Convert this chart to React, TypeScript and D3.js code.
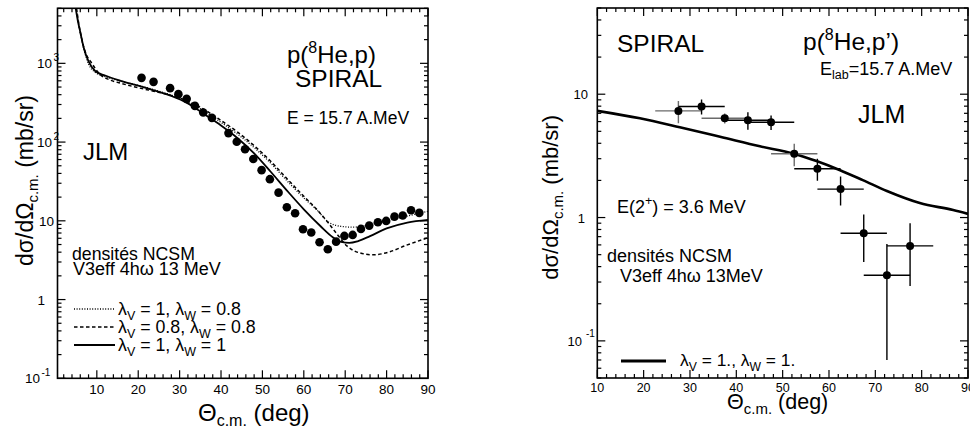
import React from "react";
import * as d3 from "d3";

// ---------- Left panel: elastic p(8He,p) ----------
const dataX1 = [20.8, 23.7, 27.7, 29.7, 31.7, 33.7, 35.7, 37.8, 41.8, 43.8, 45.8, 47.8, 49.8, 51.8, 53.9, 55.9, 57.9, 59.8, 61.8, 63.8, 65.8, 67.8, 69.8, 71.8, 73.8, 75.8, 77.9, 79.9, 81.9, 83.9, 85.9, 87.9];
const dataY1 = [654, 582, 484, 406, 354, 288, 237, 203, 130, 101, 81, 61, 44, 33.8, 22.8, 14.9, 12.5, 7.82, 7.12, 5.35, 4.36, 5.44, 6.43, 6.62, 7.89, 8.69, 9.6, 9.97, 11.3, 11.7, 13.6, 12.6];

const solidX1 = [4.9, 5.4, 6.0, 6.8, 8.0, 9.6, 12, 16, 20, 24, 28, 32, 36, 40, 44, 48, 52, 56, 60, 64, 67, 69, 71, 73, 76, 80, 85, 90];
const solidY1 = [5000, 3500, 2500, 1600, 1060, 800, 700, 595, 520, 450, 385, 310, 225, 162, 112, 72, 42, 24, 14, 8.6, 6.2, 5.4, 5.25, 5.5, 6.4, 8.0, 9.5, 10.3];

const dottedX1 = [5.0, 5.5, 6.1, 6.9, 8.0, 9.6, 12, 16, 20, 24, 28, 32, 36, 40, 44, 48, 52, 56, 60, 63, 66, 69, 72, 75, 80, 85, 90];
const dottedY1 = [5000, 3400, 2300, 1500, 980, 770, 680, 590, 525, 460, 395, 325, 245, 178, 126, 85, 54, 32, 19.5, 14, 9.6, 8.5, 8.3, 8.7, 10.0, 11.5, 13.2];

const dashedX1 = [5.1, 5.6, 6.3, 7.2, 8.8, 10.8, 13, 16, 20, 24, 28, 32, 36, 40, 44, 48, 52, 56, 60, 63, 66, 68, 70.4, 73.6, 76.8, 80.8, 84.8, 90];
const dashedY1 = [5000, 3300, 2100, 1400, 1000, 720, 620, 555, 490, 440, 390, 330, 258, 188, 134, 90, 57, 34, 20.5, 14.2, 9.3, 6.8, 4.8, 3.9, 3.7, 4.05, 4.9, 6.1];

const xTicks1 = [10, 20, 30, 40, 50, 60, 70, 80, 90];
const yTicks1 = [0.1, 1, 10, 100, 1000];
const yTickLabels1 = [["10", "-1"], ["1", ""], ["10", ""], ["10", "2"], ["10", "3"]];

// ---------- Right panel: inelastic p(8He,p') ----------
const dataX2 = [27.5, 32.5, 37.5, 42.5, 47.5, 52.5, 57.5, 62.5, 67.5, 72.5, 77.5];
const dataY2 = [7.32, 7.95, 6.38, 6.15, 5.93, 3.29, 2.49, 1.70, 0.746, 0.340, 0.589];
const errY2 = [1.5, 1.1, 0.6, 1.0, 0.8, 0.68, 0.5, 0.45, 0.31, 0.27, 0.31];
const errX2 = [5, 5, 5, 5, 5, 5, 5, 5, 5, 5, 5];

const curveX2 = [10, 19.2, 27.8, 36.5, 45.1, 52.4, 57.3, 62.4, 67.3, 72.5, 79.6, 86.8, 90];
const curveY2 = [7.33, 6.38, 5.4, 4.52, 3.78, 3.29, 2.87, 2.42, 2.01, 1.64, 1.31, 1.15, 1.07];

const xTicks2 = [10, 20, 30, 40, 50, 60, 70, 80, 90];
const yTicks2 = [0.1, 1, 10];
const yTickLabels2 = [["10", "-1"], ["1", ""], ["10", ""]];

const FONT = "'Liberation Sans', Arial, Helvetica, sans-serif";

function logMinor(lo: number, hi: number) {
  const out: { v: number; major: boolean }[] = [];
  for (let e = Math.floor(Math.log10(lo)); e <= Math.ceil(Math.log10(hi)); e++) {
    for (let m = 1; m <= 9; m++) {
      const v = m * Math.pow(10, e);
      if (v >= lo * 0.999 && v <= hi * 1.001) out.push({ v, major: m === 1 });
    }
  }
  return out;
}

function Frame({ x, y, majorLen, minorLen }: any) {
  const [x0, x1] = x.range();
  const [y0, y1] = y.range();
  const [dx0, dx1] = x.domain();
  const [dy0, dy1] = y.domain();
  const els: any[] = [];
  for (let v = Math.ceil(dx0 / 2) * 2; v <= dx1 + 1e-9; v += 2) {
    const px = x(v);
    const L = v % 10 === 0 ? majorLen : minorLen;
    els.push(<line key={"xb" + v} x1={px} x2={px} y1={y0} y2={y0 - L} />);
    els.push(<line key={"xt" + v} x1={px} x2={px} y1={y1} y2={y1 + L} />);
  }
  logMinor(dy0, dy1).forEach((t, i) => {
    const py = y(t.v);
    const L = t.major ? majorLen : minorLen;
    els.push(<line key={"yl" + i} x1={x0} x2={x0 + L} y1={py} y2={py} />);
    els.push(<line key={"yr" + i} x1={x1} x2={x1 - L} y1={py} y2={py} />);
  });
  return (
    <g stroke="#000" strokeWidth={1.2} fill="none">
      {els}
      <rect x={x0} y={y1} width={x1 - x0} height={y0 - y1} strokeWidth={1.6} />
    </g>
  );
}

function Lambda({ x, y, a, b, size }: any) {
  const s = size * 0.7;
  const d = size * 0.28;
  return (
    <text x={x} y={y} fontSize={size} fontFamily={FONT}>
      λ<tspan fontSize={s} dy={d}>V</tspan>
      <tspan dy={-d}>{` = ${a}, λ`}</tspan>
      <tspan fontSize={s} dy={d}>W</tspan>
      <tspan dy={-d}>{` = ${b}`}</tspan>
    </text>
  );
}

export default function App() {
  const x1 = d3.scaleLinear().domain([0.5, 90]).range([57.5, 428]);
  const y1 = d3.scaleLog().domain([0.1, 5000]).range([378.3, 8.3]);
  const x2 = d3.scaleLinear().domain([10, 90]).range([597.3, 968]);
  const y2 = d3.scaleLog().domain([0.05, 50]).range([378, 8]);

  const mkLine = (xs: number[], ys: number[], sx: any, sy: any) =>
    d3
      .line<number>()
      .x((_, i) => sx(xs[i]))
      .y((_, i) => sy(ys[i]))
      .curve(d3.curveMonotoneX)(xs) || "";

  const solid1 = mkLine(solidX1, solidY1, x1, y1);
  const dotted1 = mkLine(dottedX1, dottedY1, x1, y1);
  const dashed1 = mkLine(dashedX1, dashedY1, x1, y1);
  const curve2 = mkLine(curveX2, curveY2, x2, y2);

  const greyBars = new Set([0, 2, 5]);

  return (
    <svg
      width={970}
      height={429}
      style={{ position: "absolute", left: 0, top: 0, background: "#fff" }}
      fontFamily={FONT}
    >
      <defs>
        <clipPath id="c1">
          <rect x={57.5} y={8.3} width={428 - 57.5} height={378.3 - 8.3} />
        </clipPath>
        <clipPath id="c2">
          <rect x={597.3} y={8} width={968 - 597.3} height={370} />
        </clipPath>
      </defs>
      <rect width={970} height={429} fill="#fff" />

      {/* ---------- LEFT PANEL ---------- */}
      <g clipPath="url(#c1)" fill="none" stroke="#000">
        <path d={dotted1} strokeWidth={1.3} strokeDasharray="1,1.6" />
        <path d={dashed1} strokeWidth={1.5} strokeDasharray="3.5,2.5" />
        <path d={solid1} strokeWidth={1.8} />
      </g>
      <g fill="#000">
        {dataX1.map((d, i) => (
          <circle key={i} cx={x1(d)} cy={y1(dataY1[i])} r={4.3} />
        ))}
      </g>
      <Frame x={x1} y={y1} majorLen={8} minorLen={4} />

      {yTicks1.map((v, i) => {
        const [b, e] = yTickLabels1[i];
        const py = y1(v);
        const endX = e === "" ? (b === "1" ? 45 : 54) : e === "-1" ? 40 : 52;
        return (
          <g key={i} fontSize={13.5}>
            <text x={endX} y={py + 5} textAnchor="end">{b}</text>
            {e && (
              <text x={endX + 1.5} y={py - 2} fontSize={10}>{e}</text>
            )}
          </g>
        );
      })}
      {xTicks1.map((v) => (
        <text key={v} x={x1(v)} y={394} fontSize={13.5} textAnchor="middle">
          {v}
        </text>
      ))}

      <text x={198} y={421} fontSize={24}>
        Θ<tspan fontSize={16} dy={5}>c.m.</tspan>
        <tspan dy={-5}>  (deg)</tspan>
      </text>
      <text transform="translate(33,95) rotate(-90)" fontSize={23} textAnchor="end">
        dσ/dΩ<tspan fontSize={15} dy={5}>c.m.</tspan>
        <tspan dy={-5}>  (mb/sr)</tspan>
      </text>

      <text x={287} y={63} fontSize={24}>
        p(<tspan fontSize={16} dy={-10}>8</tspan>
        <tspan dy={10}>He,p)</tspan>
      </text>
      <text x={295} y={87} fontSize={24.5}>SPIRAL</text>
      <text x={287} y={124} fontSize={17.5}>E = 15.7 A.MeV</text>
      <text x={83} y={160} fontSize={24}>JLM</text>
      <text x={72} y={260} fontSize={17.7}>densités NCSM</text>
      <text x={73} y={275} fontSize={18}>V3eff 4hω 13 MeV</text>

      <g stroke="#000" fill="none">
        <line x1={74} x2={115} y1={309} y2={309} strokeWidth={1.3} strokeDasharray="1,1.6" />
        <line x1={74} x2={115} y1={327} y2={327} strokeWidth={1.5} strokeDasharray="3.5,2.5" />
        <line x1={74} x2={115} y1={345} y2={345} strokeWidth={1.8} />
      </g>
      <Lambda x={118} y={315} a="1" b="0.8" size={17.8} />
      <Lambda x={118} y={333} a="0.8" b="0.8" size={17.8} />
      <Lambda x={118} y={351} a="1" b="1" size={17.8} />

      {/* ---------- RIGHT PANEL ---------- */}
      <g clipPath="url(#c2)">
        <path d={curve2} fill="none" stroke="#000" strokeWidth={2.6} />
        {dataX2.map((d, i) => {
          const col = greyBars.has(i) ? "#6a6a6a" : "#000";
          const cx = x2(d);
          const cy = y2(dataY2[i]);
          const lo = Math.max(dataY2[i] - errY2[i], 0.05);
          return (
            <g key={i} stroke={col} strokeWidth={1.4}>
              <line x1={x2(d - errX2[i])} x2={x2(d + errX2[i])} y1={cy} y2={cy} />
              <line x1={cx} x2={cx} y1={y2(dataY2[i] + errY2[i])} y2={y2(lo)} />
            </g>
          );
        })}
        {dataX2.map((d, i) => (
          <circle key={"p" + i} cx={x2(d)} cy={y2(dataY2[i])} r={4} fill="#000" />
        ))}
      </g>
      <Frame x={x2} y={y2} majorLen={8} minorLen={4} />

      {yTicks2.map((v, i) => {
        const [b, e] = yTickLabels2[i];
        const py = y2(v);
        const endX = e === "" ? (b === "1" ? 585 : 588) : 582;
        return (
          <g key={i} fontSize={13}>
            <text x={endX} y={py + 5} textAnchor="end">{b}</text>
            {e && (
              <text x={endX + 4} y={py - 4} fontSize={10}>{e}</text>
            )}
          </g>
        );
      })}
      {xTicks2.map((v) => (
        <text key={v} x={x2(v)} y={392} fontSize={12.5} textAnchor="middle">
          {v}
        </text>
      ))}

      <text x={727} y={409} fontSize={21.5}>
        Θ<tspan fontSize={15} dy={5}>c.m.</tspan>
        <tspan dy={-5}> (deg)</tspan>
      </text>
      <text transform="translate(558,115) rotate(-90)" fontSize={22} textAnchor="end">
        dσ/dΩ<tspan fontSize={15} dy={5}>c.m.</tspan>
        <tspan dy={-5}>  (mb/sr)</tspan>
      </text>

      <text x={617} y={52} fontSize={24.5}>SPIRAL</text>
      <text x={803} y={50} fontSize={24.5}>
        p(<tspan fontSize={16} dy={-10}>8</tspan>
        <tspan dy={10}>He,p’)</tspan>
      </text>
      <text x={820} y={75} fontSize={18}>
        E<tspan fontSize={12.5} dy={4}>lab</tspan>
        <tspan dy={-4}>=15.7 A.MeV</tspan>
      </text>
      <text x={858} y={123} fontSize={25}>JLM</text>
      <text x={617} y={213} fontSize={18}>
        E(2<tspan fontSize={12.5} dy={-8}>+</tspan>
        <tspan dy={8}>) = 3.6 MeV</tspan>
      </text>
      <text x={607} y={262} fontSize={18}>densités NCSM</text>
      <text x={620} y={282} fontSize={18}>V3eff 4hω 13MeV</text>

      <line x1={621} x2={666} y1={361} y2={361} stroke="#000" strokeWidth={2.8} />
      <Lambda x={680} y={366} a="1." b="1." size={17.4} />
    </svg>
  );
}
